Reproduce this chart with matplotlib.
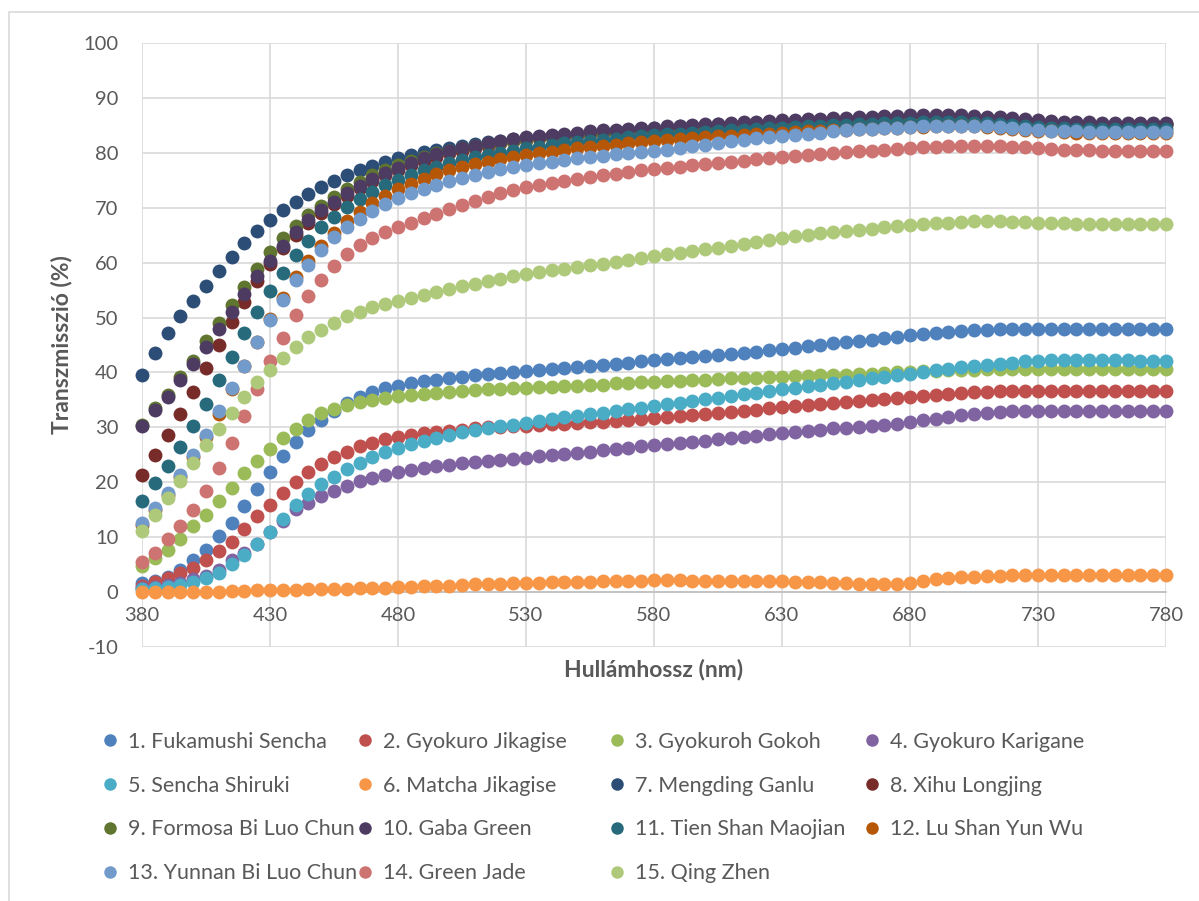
import numpy as np
import matplotlib.pyplot as plt
from matplotlib.lines import Line2D
from matplotlib.patches import Rectangle

plt.rcParams['font.family'] = ['Lato', 'DejaVu Sans']
plt.rcParams['axes.unicode_minus'] = False

# hullámhossz (nm), 5 nm lépés
wavelengths = np.arange(380, 781, 5)

names = ['1. Fukamushi Sencha', '2. Gyokuro Jikagise', '3. Gyokuroh Gokoh', '4. Gyokuro Karigane',
         '5. Sencha Shiruki', '6. Matcha Jikagise', '7. Mengding Ganlu', '8. Xihu Longjing',
         '9. Formosa Bi Luo Chun', '10. Gaba Green', '11. Tien Shan Maojian', '12. Lu Shan Yun Wu',
         '13. Yunnan Bi Luo Chun', '14. Green Jade', '15. Qing Zhen']

colors = ['#4F81BD', '#C0504D', '#9BBB59', '#8064A2', '#4BACC6', '#F79646', '#2C4D75', '#772C2A',
          '#5F7530', '#4D3B62', '#276A7C', '#B65708', '#729ACA', '#CD7371', '#AFC97A']

# transzmisszió (%) értékek, sorok: 380-425, 430-475, ... , 780
fukamushi = [1.6, 2.1, 2.8, 4.1, 5.9, 7.7, 10.2, 12.6, 15.6, 18.7,
             21.8, 24.7, 27.3, 29.5, 31.4, 32.9, 34.4, 35.5, 36.4, 37.1,
             37.6, 38.0, 38.4, 38.7, 39.0, 39.2, 39.5, 39.7, 39.9, 40.1,
             40.3, 40.5, 40.7, 40.9, 41.0, 41.2, 41.4, 41.6, 41.8, 42.0,
             42.2, 42.4, 42.6, 42.8, 43.0, 43.2, 43.4, 43.6, 43.8, 44.0,
             44.3, 44.5, 44.8, 45.0, 45.3, 45.5, 45.8, 46.0, 46.3, 46.5,
             46.8, 47.0, 47.2, 47.4, 47.6, 47.7, 47.8, 47.9, 48.0, 48.0,
             48.0, 48.0, 48.0, 48.0, 48.0, 48.0, 48.0, 48.0, 48.0, 48.0,
             48.0]
jikagise = [1.2, 1.9, 2.6, 3.4, 4.4, 5.8, 7.4, 9.2, 11.4, 13.8,
            15.9, 18.0, 20.0, 21.8, 23.4, 24.6, 25.6, 26.6, 27.2, 27.8,
            28.3, 28.6, 28.9, 29.2, 29.4, 29.6, 29.8, 30.0, 30.1, 30.2,
            30.3, 30.5, 30.6, 30.7, 30.8, 30.9, 31.0, 31.2, 31.3, 31.5,
            31.7, 31.9, 32.1, 32.3, 32.5, 32.6, 32.8, 33.0, 33.2, 33.5,
            33.7, 33.9, 34.1, 34.3, 34.4, 34.6, 34.8, 35.0, 35.1, 35.3,
            35.5, 35.7, 35.9, 36.1, 36.2, 36.4, 36.5, 36.6, 36.7, 36.7,
            36.7, 36.7, 36.7, 36.7, 36.7, 36.7, 36.7, 36.7, 36.7, 36.7,
            36.7]
gokoh = [4.7, 6.2, 7.7, 9.6, 12.0, 14.1, 16.5, 19.0, 21.6, 23.8,
         26.1, 28.1, 29.7, 31.3, 32.6, 33.4, 34.1, 34.6, 35.0, 35.4,
         35.7, 35.9, 36.1, 36.3, 36.5, 36.6, 36.8, 36.9, 37.0, 37.1,
         37.2, 37.3, 37.4, 37.5, 37.6, 37.7, 37.8, 38.0, 38.1, 38.2,
         38.3, 38.4, 38.5, 38.6, 38.7, 38.8, 38.9, 39.0, 39.0, 39.1,
         39.2, 39.3, 39.4, 39.5, 39.6, 39.6, 39.7, 39.8, 39.9, 40.0,
         40.1, 40.2, 40.3, 40.4, 40.5, 40.5, 40.6, 40.6, 40.7, 40.7,
         40.7, 40.7, 40.7, 40.7, 40.7, 40.7, 40.7, 40.7, 40.7, 40.7,
         40.7]
karigane = [0.8, 1.0, 1.3, 1.7, 2.3, 3.0, 4.1, 5.8, 7.2, 8.7,
            10.9, 13.0, 15.1, 16.3, 17.5, 18.5, 19.4, 20.2, 20.8, 21.3,
            21.8, 22.2, 22.6, 22.9, 23.2, 23.5, 23.7, 23.9, 24.1, 24.3,
            24.5, 24.7, 24.9, 25.1, 25.3, 25.5, 25.8, 26.0, 26.3, 26.6,
            26.8, 27.0, 27.2, 27.4, 27.6, 27.8, 28.0, 28.3, 28.5, 28.8,
            29.0, 29.2, 29.4, 29.6, 29.8, 29.9, 30.1, 30.3, 30.5, 30.7,
            31.0, 31.3, 31.6, 31.9, 32.2, 32.4, 32.6, 32.8, 32.9, 33.0,
            33.0, 33.0, 33.0, 33.0, 33.0, 33.0, 33.0, 33.0, 33.0, 33.0,
            33.0]
shiruki = [0.5, 0.8, 1.0, 1.3, 1.8, 2.5, 3.5, 5.2, 6.8, 8.8,
           11.0, 13.4, 15.8, 17.8, 19.6, 21.0, 22.5, 23.6, 24.6, 25.5,
           26.3, 27.0, 27.6, 28.1, 28.6, 29.1, 29.5, 29.9, 30.2, 30.5,
           30.8, 31.1, 31.5, 31.8, 32.1, 32.4, 32.7, 33.0, 33.3, 33.6,
           33.9, 34.2, 34.5, 34.8, 35.1, 35.4, 35.7, 36.0, 36.3, 36.6,
           36.9, 37.2, 37.5, 37.8, 38.1, 38.3, 38.6, 38.9, 39.2, 39.5,
           39.8, 40.1, 40.4, 40.7, 41.0, 41.2, 41.4, 41.6, 41.8, 42.0,
           42.1, 42.2, 42.2, 42.2, 42.2, 42.2, 42.2, 42.2, 42.1, 42.1,
           42.1]
matcha = [0.0, 0.0, 0.0, 0.0, 0.1, 0.1, 0.1, 0.2, 0.2, 0.3,
          0.3, 0.4, 0.4, 0.5, 0.5, 0.6, 0.6, 0.7, 0.8, 0.8,
          0.9, 1.0, 1.1, 1.1, 1.2, 1.3, 1.4, 1.5, 1.5, 1.6,
          1.7, 1.7, 1.8, 1.8, 1.9, 1.9, 2.0, 2.0, 2.1, 2.1,
          2.2, 2.2, 2.2, 2.1, 2.1, 2.1, 2.0, 2.0, 2.0, 2.0,
          2.0, 1.9, 1.9, 1.8, 1.7, 1.6, 1.5, 1.4, 1.4, 1.5,
          1.7, 2.0, 2.3, 2.5, 2.7, 2.8, 2.9, 3.0, 3.1, 3.1,
          3.2, 3.2, 3.2, 3.1, 3.1, 3.1, 3.1, 3.1, 3.1, 3.1,
          3.1]
mengding = [39.6, 43.6, 47.2, 50.2, 53.0, 55.7, 58.5, 61.0, 63.6, 65.7,
            67.7, 69.6, 71.1, 72.5, 73.7, 74.8, 75.9, 76.8, 77.6, 78.3,
            79.0, 79.6, 80.1, 80.5, 80.9, 81.3, 81.6, 81.9, 82.2, 82.5,
            82.7, 82.9, 83.1, 83.3, 83.5, 83.7, 83.8, 84.0, 84.2, 84.3,
            84.5, 84.6, 84.8, 84.9, 85.0, 85.2, 85.3, 85.4, 85.5, 85.6,
            85.7, 85.8, 85.9, 86.0, 86.1, 86.2, 86.3, 86.4, 86.5, 86.5,
            86.6, 86.6, 86.6, 86.6, 86.6, 86.5, 86.4, 86.3, 86.1, 85.9,
            85.7, 85.6, 85.5, 85.4, 85.4, 85.3, 85.3, 85.3, 85.3, 85.3,
            85.3]
xihu = [21.4, 25.0, 28.7, 32.5, 36.4, 40.8, 45.0, 49.1, 52.9, 56.6,
        59.8, 62.7, 65.1, 67.3, 69.1, 70.7, 72.2, 73.6, 74.8, 75.9,
        76.9, 77.8, 78.6, 79.3, 79.9, 80.4, 80.9, 81.3, 81.7, 82.1,
        82.4, 82.7, 82.9, 83.1, 83.3, 83.5, 83.7, 83.8, 84.0, 84.1,
        84.2, 84.4, 84.5, 84.7, 84.8, 84.9, 85.1, 85.2, 85.3, 85.4,
        85.5, 85.6, 85.7, 85.8, 85.9, 86.0, 86.1, 86.2, 86.3, 86.3,
        86.4, 86.4, 86.4, 86.4, 86.4, 86.3, 86.2, 86.1, 85.9, 85.7,
        85.5, 85.4, 85.3, 85.2, 85.2, 85.1, 85.1, 85.1, 85.1, 85.1,
        85.1]
formosa = [30.5, 33.6, 35.9, 39.1, 42.0, 45.7, 49.0, 52.3, 55.6, 58.9,
           61.9, 64.5, 66.6, 68.6, 70.4, 71.9, 73.4, 74.7, 75.9, 76.9,
           77.8, 78.6, 79.3, 79.9, 80.4, 80.8, 81.2, 81.6, 81.9, 82.2,
           82.5, 82.8, 83.0, 83.2, 83.4, 83.6, 83.8, 84.0, 84.1, 84.3,
           84.4, 84.5, 84.7, 84.8, 84.9, 85.1, 85.2, 85.3, 85.4, 85.5,
           85.6, 85.7, 85.8, 85.9, 86.0, 86.1, 86.2, 86.3, 86.4, 86.4,
           86.5, 86.5, 86.5, 86.5, 86.5, 86.4, 86.3, 86.2, 86.0, 85.8,
           85.6, 85.5, 85.4, 85.3, 85.3, 85.2, 85.2, 85.2, 85.2, 85.2,
           85.2]
gaba = [30.3, 33.2, 35.6, 38.7, 41.5, 44.7, 47.9, 51.1, 54.3, 57.5,
        60.3, 63.1, 65.5, 67.7, 69.5, 71.1, 72.6, 74.0, 75.2, 76.3,
        77.3, 78.2, 79.0, 79.7, 80.3, 80.8, 81.3, 81.7, 82.1, 82.5,
        82.8, 83.1, 83.3, 83.5, 83.7, 83.9, 84.1, 84.2, 84.4, 84.5,
        84.6, 84.8, 84.9, 85.1, 85.2, 85.3, 85.5, 85.6, 85.7, 85.8,
        85.9, 86.0, 86.1, 86.2, 86.3, 86.4, 86.5, 86.6, 86.7, 86.7,
        86.8, 86.8, 86.8, 86.8, 86.8, 86.7, 86.6, 86.5, 86.3, 86.1,
        85.9, 85.8, 85.7, 85.6, 85.6, 85.5, 85.5, 85.5, 85.5, 85.5,
        85.5]
tien_shan = [16.5, 19.9, 22.9, 26.5, 30.3, 34.3, 38.7, 42.9, 47.2, 51.1,
             54.9, 58.2, 61.4, 64.0, 66.5, 68.4, 70.1, 71.6, 72.9, 74.1,
             75.1, 76.0, 76.8, 77.5, 78.1, 78.7, 79.2, 79.6, 80.0, 80.4,
             80.8, 81.1, 81.4, 81.7, 82.0, 82.2, 82.4, 82.6, 82.8, 83.0,
             83.2, 83.4, 83.5, 83.7, 83.8, 84.0, 84.1, 84.2, 84.4, 84.5,
             84.6, 84.7, 84.8, 84.9, 85.0, 85.1, 85.2, 85.3, 85.4, 85.5,
             85.5, 85.6, 85.6, 85.6, 85.6, 85.5, 85.4, 85.3, 85.1, 84.9,
             84.7, 84.6, 84.5, 84.4, 84.4, 84.3, 84.3, 84.3, 84.3, 84.3,
             84.3]
lu_shan = [12.2, 15.0, 17.7, 21.0, 24.6, 28.3, 32.5, 37.0, 41.2, 45.5,
           49.8, 53.6, 57.4, 60.3, 63.0, 65.4, 67.5, 69.2, 70.8, 72.1,
           73.4, 74.4, 75.3, 76.1, 76.8, 77.4, 77.9, 78.4, 78.8, 79.2,
           79.6, 79.9, 80.2, 80.5, 80.8, 81.0, 81.3, 81.5, 81.7, 81.9,
           82.1, 82.3, 82.5, 82.7, 82.8, 83.0, 83.1, 83.3, 83.4, 83.5,
           83.7, 83.8, 83.9, 84.0, 84.1, 84.2, 84.3, 84.4, 84.5, 84.6,
           84.7, 84.7, 84.8, 84.8, 84.8, 84.8, 84.7, 84.6, 84.4, 84.2,
           84.0, 83.9, 83.8, 83.7, 83.7, 83.6, 83.6, 83.6, 83.6, 83.6,
           83.6]
yunnan = [12.5, 15.3, 18.1, 21.4, 25.0, 28.7, 32.9, 37.2, 41.2, 45.5,
          49.6, 53.2, 56.9, 59.6, 62.3, 64.6, 66.5, 68.0, 69.4, 70.6,
          71.7, 72.6, 73.4, 74.2, 74.9, 75.5, 76.0, 76.5, 77.0, 77.4,
          77.8, 78.1, 78.4, 78.7, 79.0, 79.3, 79.5, 79.7, 79.9, 80.1,
          80.3, 80.6, 80.9, 81.2, 81.5, 81.8, 82.1, 82.4, 82.7, 82.9,
          83.1, 83.3, 83.5, 83.7, 83.9, 84.1, 84.3, 84.4, 84.5, 84.6,
          84.7, 84.8, 84.9, 84.9, 84.9, 84.9, 84.8, 84.7, 84.5, 84.3,
          84.1, 84.0, 83.9, 83.9, 83.8, 83.8, 83.8, 83.8, 83.8, 83.8,
          83.8]
green_jade = [5.4, 7.2, 9.6, 12.0, 14.9, 18.5, 22.6, 27.1, 32.0, 37.0,
              42.1, 46.3, 50.5, 54.0, 56.9, 59.4, 61.6, 63.2, 64.5, 65.6,
              66.5, 67.3, 68.1, 68.9, 69.7, 70.5, 71.3, 72.0, 72.6, 73.2,
              73.7, 74.1, 74.5, 74.9, 75.3, 75.6, 75.9, 76.2, 76.5, 76.8,
              77.0, 77.3, 77.5, 77.7, 77.9, 78.1, 78.4, 78.6, 78.8, 79.0,
              79.2, 79.4, 79.6, 79.8, 79.9, 80.1, 80.3, 80.4, 80.6, 80.7,
              80.9, 81.0, 81.1, 81.2, 81.3, 81.3, 81.3, 81.2, 81.1, 81.0,
              80.8, 80.7, 80.6, 80.5, 80.5, 80.4, 80.4, 80.4, 80.4, 80.4,
              80.4]
qing_zhen = [11.1, 14.1, 17.1, 20.2, 23.5, 26.8, 29.7, 32.6, 35.5, 38.2,
             40.5, 42.6, 44.7, 46.5, 47.8, 49.0, 50.2, 51.1, 51.9, 52.5,
             53.0, 53.5, 54.1, 54.7, 55.2, 55.7, 56.2, 56.6, 57.1, 57.5,
             57.9, 58.3, 58.6, 58.9, 59.2, 59.5, 59.8, 60.1, 60.4, 60.8,
             61.2, 61.5, 61.8, 62.1, 62.4, 62.7, 63.0, 63.4, 63.7, 64.1,
             64.5, 64.8, 65.1, 65.4, 65.6, 65.8, 66.0, 66.2, 66.4, 66.6,
             66.8, 67.0, 67.2, 67.3, 67.4, 67.5, 67.5, 67.5, 67.4, 67.4,
             67.3, 67.2, 67.2, 67.1, 67.1, 67.1, 67.1, 67.1, 67.1, 67.1,
             67.1]

series = [fukamushi, jikagise, gokoh, karigane, shiruki, matcha, mengding, xihu,
          formosa, gaba, tien_shan, lu_shan, yunnan, green_jade, qing_zhen]

text_color = '#595959'

fig = plt.figure(figsize=(11.99, 9.01), dpi=100)
ax = fig.add_axes([142 / 1199, 1 - 647 / 901, 1024 / 1199, 604 / 901])

for i, values in enumerate(series):
    ax.plot(wavelengths, values, 'o', color=colors[i], markersize=10, markeredgewidth=0,
            clip_on=False, zorder=3 + i)

ax.set_xlim(380, 780)
ax.set_ylim(-10, 100)
ax.set_xticks(np.arange(380, 781, 50))
ax.set_yticks(np.arange(-10, 101, 10))
ax.grid(color='#D9D9D9', linewidth=1.2)
ax.set_axisbelow(True)

for side in ['top', 'right', 'left']:
    ax.spines[side].set_visible(False)
ax.spines['bottom'].set_position(('data', 0))
ax.spines['bottom'].set_color('#BFBFBF')
ax.spines['bottom'].set_linewidth(1.2)
ax.spines['bottom'].set_zorder(2)

ax.tick_params(axis='x', length=0, pad=11, labelsize=14.5, labelcolor=text_color)
ax.tick_params(axis='y', length=0, pad=17, labelsize=14.5, labelcolor=text_color)

ax.set_xlabel('Hullámhossz (nm)', fontsize=16.5, fontweight='bold', color=text_color)
ax.xaxis.set_label_coords(0.5, -0.02)
ax.set_ylabel('Transzmisszió (%)', fontsize=16.5, fontweight='bold', color=text_color)
ax.yaxis.set_label_coords(-0.068, 0.5)

# jelmagyarázat: 4 oszlop, soronként haladva
col_x = [104 / 1199, 359 / 1199, 611 / 1199, 866 / 1199]
for c in range(4):
    idx = list(range(c, 15, 4))
    handles = [Line2D([], [], linestyle='none', marker='o', markersize=9, markeredgewidth=0,
                      color=colors[i]) for i in idx]
    fig.legend(handles, [names[i] for i in idx], loc='upper left',
               bbox_to_anchor=(col_x[c], 1 - 732 / 901), frameon=False, fontsize=15.5,
               labelcolor=text_color, handlelength=0.6, handletextpad=0.5,
               labelspacing=1.1, borderpad=0, borderaxespad=0)

fig.patches.append(Rectangle((9 / 1199, -0.1), 1.2, 0.1 + 1 - 12 / 901, transform=fig.transFigure,
                             fill=False, edgecolor='#D9D9D9', linewidth=1.2))

plt.savefig('out.png', dpi=100)
